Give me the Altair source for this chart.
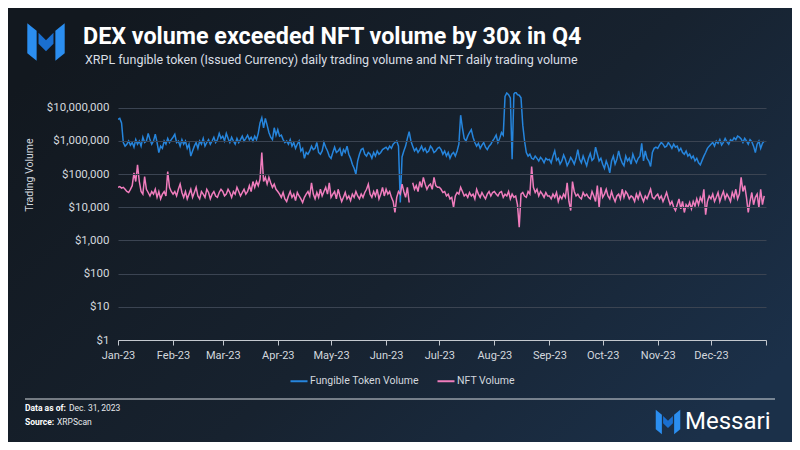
import altair as alt
import pandas as pd

# ---------------- data (values in $ thousands, one per day of 2023) ----------------
ft_jan = [4500, 4800, 3500, 900, 700, 800, 1000, 750, 900, 650, 1100, 800, 1000, 700, 1300, 900, 1000, 1700, 1100, 800, 1000, 1600, 900, 450, 700, 600, 1000, 800, 1200, 900, 1100]
ft_feb = [1300, 1600, 900, 1000, 700, 1100, 800, 1000, 600, 800, 350, 500, 700, 900, 600, 1000, 800, 1200, 700, 900, 1100, 800, 1000, 1300, 900, 1100, 1700, 1200]
ft_mar = [1400, 1000, 1700, 1200, 900, 1300, 1000, 800, 1200, 900, 1100, 1400, 1000, 1200, 1500, 1100, 1300, 1000, 1400, 1100, 1700, 3500, 5000, 2500, 4800, 3000, 1800, 1300, 1100, 2500, 1500]
ft_apr = [2200, 1400, 1500, 1100, 900, 1000, 800, 1100, 700, 900, 600, 800, 1000, 500, 600, 300, 450, 400, 500, 700, 550, 600, 900, 450, 400, 500, 900, 650, 500, 350]
ft_may = [300, 450, 650, 450, 500, 600, 350, 550, 450, 700, 400, 300, 200, 150, 100, 250, 400, 550, 600, 400, 350, 450, 400, 300, 450, 350, 500, 400, 450, 550, 600]
ft_jun = [650, 550, 700, 600, 800, 900, 1000, 700, 14, 330, 500, 700, 1200, 1900, 1000, 700, 500, 600, 450, 550, 700, 500, 600, 450, 500, 700, 600, 450, 500, 600]
ft_jul = [650, 550, 400, 500, 350, 450, 300, 400, 450, 350, 500, 800, 6000, 2500, 1200, 1000, 1400, 1800, 2200, 1300, 900, 700, 850, 600, 750, 900, 650, 550, 700, 800, 1000]
ft_aug = [1200, 1500, 900, 1200, 1800, 1500, 22000, 28000, 25000, 20000, 280, 26000, 30000, 25000, 24000, 20000, 3000, 1000, 450, 350, 400, 300, 280, 350, 300, 250, 320, 280, 220, 300, 270]
ft_sep = [280, 220, 350, 500, 260, 300, 200, 250, 380, 280, 180, 230, 320, 260, 200, 300, 550, 280, 220, 350, 250, 180, 300, 420, 260, 300, 650, 400, 250, 300]
ft_oct = [200, 150, 250, 180, 110, 250, 350, 200, 280, 500, 300, 220, 180, 350, 250, 300, 200, 400, 280, 220, 300, 350, 850, 250, 500, 300, 250, 170, 450, 600, 650]
ft_nov = [600, 750, 900, 800, 650, 700, 900, 750, 600, 800, 650, 700, 500, 600, 450, 400, 500, 350, 400, 300, 350, 250, 300, 220, 190, 260, 350, 450, 600, 700]
ft_dec = [800, 900, 700, 1000, 850, 1100, 750, 900, 1200, 950, 800, 1100, 1000, 1250, 1100, 1400, 1300, 1150, 900, 1200, 1000, 800, 1100, 950, 700, 450, 800, 1000, 600, 850, 1000]

nft_jan = [40, 42, 38, 40, 35, 30, 28, 35, 45, 110, 60, 190, 60, 30, 25, 85, 35, 28, 22, 30, 25, 35, 20, 30, 18, 25, 30, 22, 120, 40, 30]
nft_feb = [25, 30, 22, 35, 50, 28, 20, 30, 18, 25, 35, 20, 28, 40, 22, 18, 30, 25, 20, 35, 28, 18, 25, 30, 22, 20, 28, 35]
nft_mar = [30, 22, 25, 35, 28, 20, 30, 25, 40, 30, 22, 28, 35, 25, 30, 45, 30, 60, 40, 60, 45, 70, 450, 60, 80, 50, 80, 55, 40, 50, 35]
nft_apr = [30, 25, 20, 28, 18, 15, 22, 30, 20, 25, 16, 28, 22, 18, 14, 20, 25, 30, 22, 55, 25, 18, 28, 20, 35, 22, 30, 40, 25, 55]
nft_may = [20, 25, 30, 18, 35, 22, 15, 20, 28, 18, 22, 16, 25, 20, 30, 22, 18, 25, 20, 28, 35, 50, 25, 20, 30, 22, 35, 18, 25, 40, 22]
nft_jun = [35, 25, 30, 20, 15, 7, 20, 30, 25, 50, 30, 20, 40, 14, None, 55, 35, 45, 30, 60, 40, 80, 50, 35, 45, 50, 35, 80, 45, 40]
nft_jul = [40, 35, 28, 30, 22, 25, 18, 20, 10, 22, 28, 25, 40, 30, 22, 25, 20, 28, 22, 25, 18, 35, 25, 20, 28, 22, 18, 25, 30, 22, 28]
nft_aug = [30, 25, 22, 28, 30, 20, 25, 22, 30, 18, 25, 20, 22, 12, 2.5, 25, 28, 22, 20, 30, 25, 170, 40, 28, 35, 22, 30, 25, 20, 28, 22]
nft_sep = [22, 18, 25, 20, 28, 15, 22, 18, 25, 20, 55, 15, 8, 60, 30, 22, 25, 20, 18, 28, 22, 25, 20, 18, 30, 22, 15, 45, 10, 40]
nft_oct = [20, 25, 35, 22, 18, 30, 20, 15, 22, 25, 18, 35, 20, 30, 25, 18, 22, 20, 15, 25, 18, 28, 20, 15, 22, 18, 25, 35, 20, 18, 22]
nft_nov = [25, 18, 22, 15, 20, 28, 18, 12, 15, 10, 8, 12, 18, 9, 15, 7, 12, 10, 14, 9, 15, 11, 18, 12, 20, 15, 35, 6, 15, 22]
nft_dec = [18, 25, 15, 20, 28, 15, 22, 30, 18, 25, 20, 15, 28, 20, 35, 18, 25, 80, 30, 45, 20, 7, 15, 28, 12, 20, 25, 10, 35, 12, 22]

series_names = ["Fungible Token Volume", "NFT Volume"]
series_colors = ["#2685dc", "#f07dbd"]
y_ticks = [1, 10, 100, 1000, 10000, 100000, 1000000, 10000000]

ft_k = ft_jan + ft_feb + ft_mar + ft_apr + ft_may + ft_jun + ft_jul + ft_aug + ft_sep + ft_oct + ft_nov + ft_dec
nft_k = nft_jan + nft_feb + nft_mar + nft_apr + nft_may + nft_jun + nft_jul + nft_aug + nft_sep + nft_oct + nft_nov + nft_dec
dates = pd.date_range("2023-01-01", "2023-12-31", freq="D")

rows = []
for d, v in zip(dates, ft_k):
    rows.append({"date": d.strftime("%Y-%m-%d"), "series": series_names[0], "seg": "ft", "value": v * 1000})
seg = 0
for d, v in zip(dates, nft_k):
    if v is None:
        seg += 1
        continue
    rows.append({"date": d.strftime("%Y-%m-%d"), "series": series_names[1], "seg": f"nft{seg}", "value": v * 1000})
df = pd.DataFrame(rows)

W, H = 648, 248
PL, PT = 110, 84
FONT = "Roboto"
one = alt.Data(values=[{}])

bg = alt.Chart(one).mark_rect(
    color={"gradient": "linear", "x1": 0, "y1": 0.2, "x2": 1, "y2": 0.8,
           "stops": [{"offset": 0, "color": "#12181f"}, {"offset": 0.55, "color": "#17222f"},
                     {"offset": 1, "color": "#1b3049"}]}
).encode(x=alt.value(-PL), x2=alt.value(W + 26), y=alt.value(-PT), y2=alt.value(H + 102))

month_ticks = [alt.DateTime(year=2023 + (m // 12), month=(m % 12) + 1, date=1, utc=True) for m in range(13)]

lines = alt.Chart(df).mark_line(strokeWidth=1.5, clip=True).encode(
    x=alt.X("date:T",
            scale=alt.Scale(type="utc", domain=[month_ticks[0], month_ticks[12]]),
            axis=alt.Axis(values=month_ticks, title=None, grid=False, zindex=1, labelFlush=False,
                          labelExpr="utcyear(datum.value) > 2023 ? '' : utcFormat(datum.value, '%b-%y')",
                          domainColor="#c3c8ce", tickColor="#c3c8ce", tickSize=5,
                          labelColor="#d3d8de", labelFont=FONT, labelFontSize=11, labelPadding=4)),
    y=alt.Y("value:Q",
            scale=alt.Scale(type="log", domain=[1, 30000000]),
            axis=alt.Axis(values=y_ticks, format="$,.0f", title=None, domain=False, ticks=False, zindex=1,
                          gridColor="#3b4452", gridWidth=1, labelColor="#d3d8de",
                          labelFont=FONT, labelFontSize=11.5, labelPadding=9)),
    color=alt.Color("series:N", scale=alt.Scale(domain=series_names, range=series_colors),
                    legend=alt.Legend(orient="none", legendX=171, legendY=279, direction="horizontal",
                                      title=None, symbolType="stroke", symbolSize=290, symbolStrokeWidth=2,
                                      labelColor="#d3d8de", labelFont=FONT, labelFontSize=10.5,
                                      labelOffset=1, columnPadding=14)),
    detail="seg:N",
)

def txt(text, x, y, size, color="#ffffff", weight="normal", angle=0, align="left", font=FONT):
    return alt.Chart(one).mark_text(text=text, align=align, baseline="middle", fontSize=size,
                                    fontWeight=weight, color=color, font=font, angle=angle
                                    ).encode(x=alt.value(x), y=alt.value(y))

title = txt("DEX volume exceeded NFT volume by 30x in Q4", -35, -55, 23.3, weight="bold")
subtitle = txt("XRPL fungible token (Issued Currency) daily trading volume and NFT daily trading volume", -33, -32, 12.5, color="#d9dee4")
ytitle = txt("Trading Volume", -88, 83, 10.5, color="#d3d8de", angle=270, align="center")
foot1a = txt("Data as of:", -93, 316, 8.5, weight="bold")
foot1b = txt("Dec. 31, 2023", -49, 316, 8.5, color="#e6e9ec")
foot2a = txt("Source:", -93, 330, 8.5, weight="bold")
foot2b = txt("XRPScan", -61, 330, 8.5, color="#e6e9ec")
brand = txt("Messari", 567, 330, 24)

rule = alt.Chart(one).mark_rule(color="#d5d9de", strokeWidth=1).encode(
    x=alt.value(-93), x2=alt.value(657), y=alt.value(307))

# Messari mark drawn as custom symbol paths
logo_left = "M-1,-1L-0.5,-0.6L-0.5,1L-1,0.6Z"
logo_mid = "M-0.4,-0.5L0,-0.1L0.4,-0.5L0.4,0.1L0,0.5L-0.4,0.1Z"
logo_right = "M0.5,-0.6L1,-1L1,0.6L0.5,1Z"

def logo(cx, cy, size):
    parts = []
    for path, col in [(logo_left, "#2b8ef0"), (logo_mid, "#1a6fd0"), (logo_right, "#2b8ef0")]:
        parts.append(alt.Chart(one).mark_point(shape=path, filled=True, size=size, color=col, opacity=1,
                                               strokeWidth=0).encode(x=alt.value(cx), y=alt.value(cy)))
    return parts

chart = alt.layer(
    bg, lines, title, subtitle, ytitle, rule, foot1a, foot1b, foot2a, foot2b, brand,
    *logo(-72, -50, 1400), *logo(550, 330, 600)
).properties(
    width=W, height=H,
    autosize=alt.AutoSizeParams(type="none"),
    padding={"left": PL, "top": PT, "right": 26, "bottom": 102},
    background="#151d28",
).configure_view(stroke=None)

chart.save("out.html", embed_options={"renderer": "svg", "actions": False})
